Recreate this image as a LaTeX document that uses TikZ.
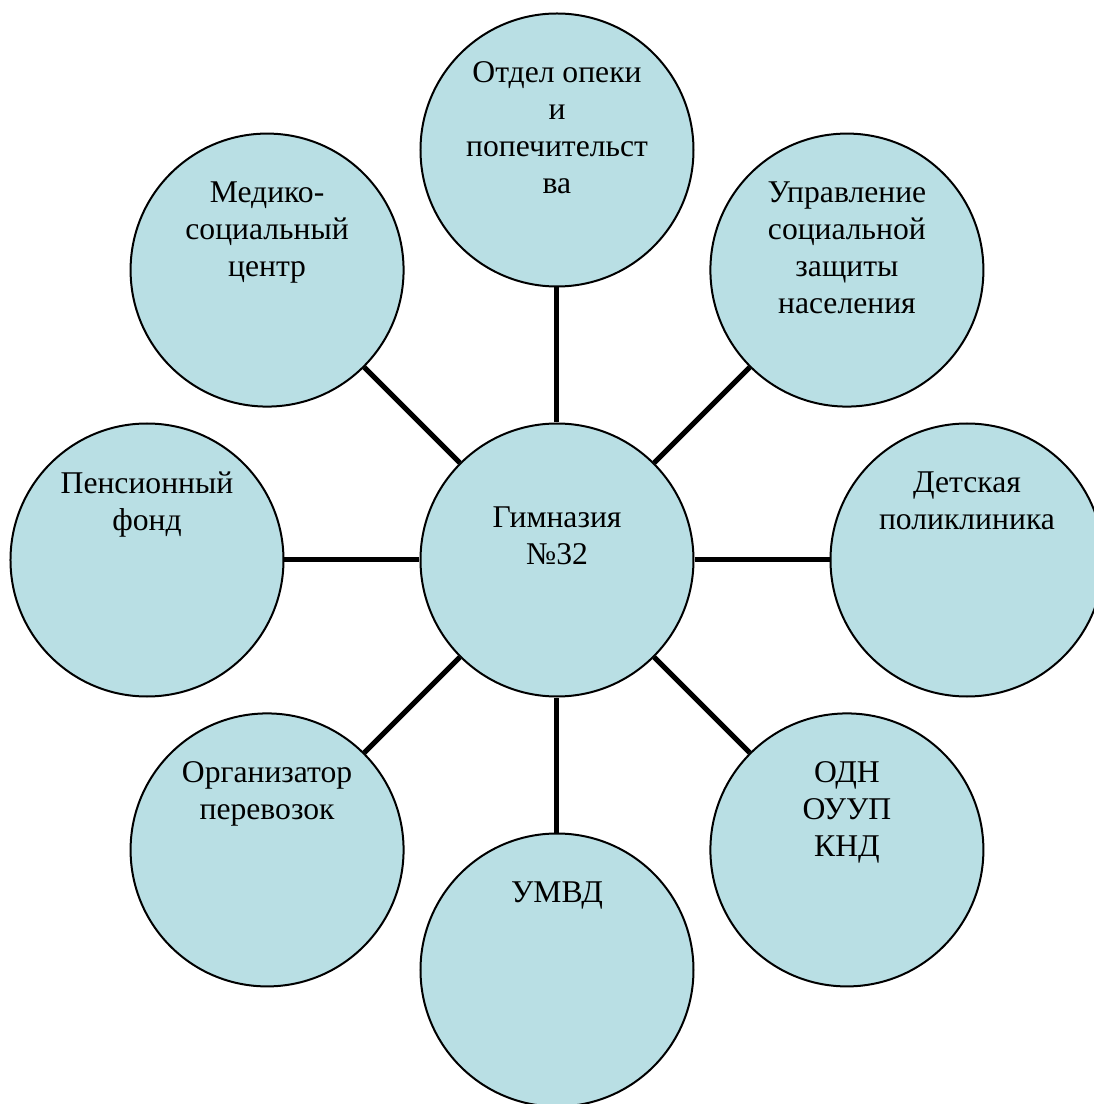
\documentclass[tikz,border=0pt]{standalone}
\usepackage{fontspec}
\setmainfont{Liberation Serif}
\usetikzlibrary{positioning}

\definecolor{circfill}{RGB}{185,223,228}

\begin{document}
\begin{tikzpicture}[circ/.style={circle, draw, line width=0.04cm, fill=circfill,
        minimum size=5.46cm, inner sep=0pt},
    txt/.style={align=center, inner sep=0pt, font=\fontsize{18pt}{21pt}\selectfont},
    link/.style={line width=0.1cm}]
    \useasboundingbox (-11.14,-10.88) rectangle (10.74,11.2);

    % Nodes {gym, opeka, uszn, detpol, odn, umvd, perev, pf, msc}
    \node [circ] (gym)    at (0,0)     {};
    \node [circ] (opeka)  at (90:8.2)  {};
    \node [circ] (uszn)   at (45:8.2)  {};
    \node [circ] (detpol) at (0:8.2)   {};
    \node [circ] (odn)    at (-45:8.2) {};
    \node [circ] (umvd)   at (-90:8.2) {};
    \node [circ] (perev)  at (225:8.2) {};
    \node [circ] (pf)     at (180:8.2) {};
    \node [circ] (msc)    at (135:8.2) {};

    % Paths
    \draw [link] (gym) -- (opeka);
    \draw [link] (gym) -- (uszn);
    \draw [link] (gym) -- (detpol);
    \draw [link] (gym) -- (odn);
    \draw [link] (gym) -- (umvd);
    \draw [link] (gym) -- (perev);
    \draw [link] (gym) -- (pf);
    \draw [link] (gym) -- (msc);

    % Texts
    \node [txt, below=1.68cm of gym.north]    (gymT)    {Гимназия\\№32};
    \node [txt, below=0.98cm of opeka.north]  (opekaT)  {Отдел опеки\\и\\попечительст\\ва};
    \node [txt, below=0.98cm of uszn.north]   (usznT)   {Управление\\социальной\\защиты\\населения};
    \node [txt, below=0.98cm of detpol.north] (detpolT) {Детская\\поликлиника};
    \node [txt, below=0.98cm of odn.north]    (odnT)    {ОДН\\ОУУП\\КНД};
    \node [txt, below=0.98cm of umvd.north]   (umvdT)   {УМВД};
    \node [txt, below=0.98cm of perev.north]  (perevT)  {Организатор\\перевозок};
    \node [txt, below=0.98cm of pf.north]     (pfT)     {Пенсионный\\фонд};
    \node [txt, below=0.98cm of msc.north]    (mscT)    {Медико-\\социальный\\центр};
\end{tikzpicture}
\end{document}
